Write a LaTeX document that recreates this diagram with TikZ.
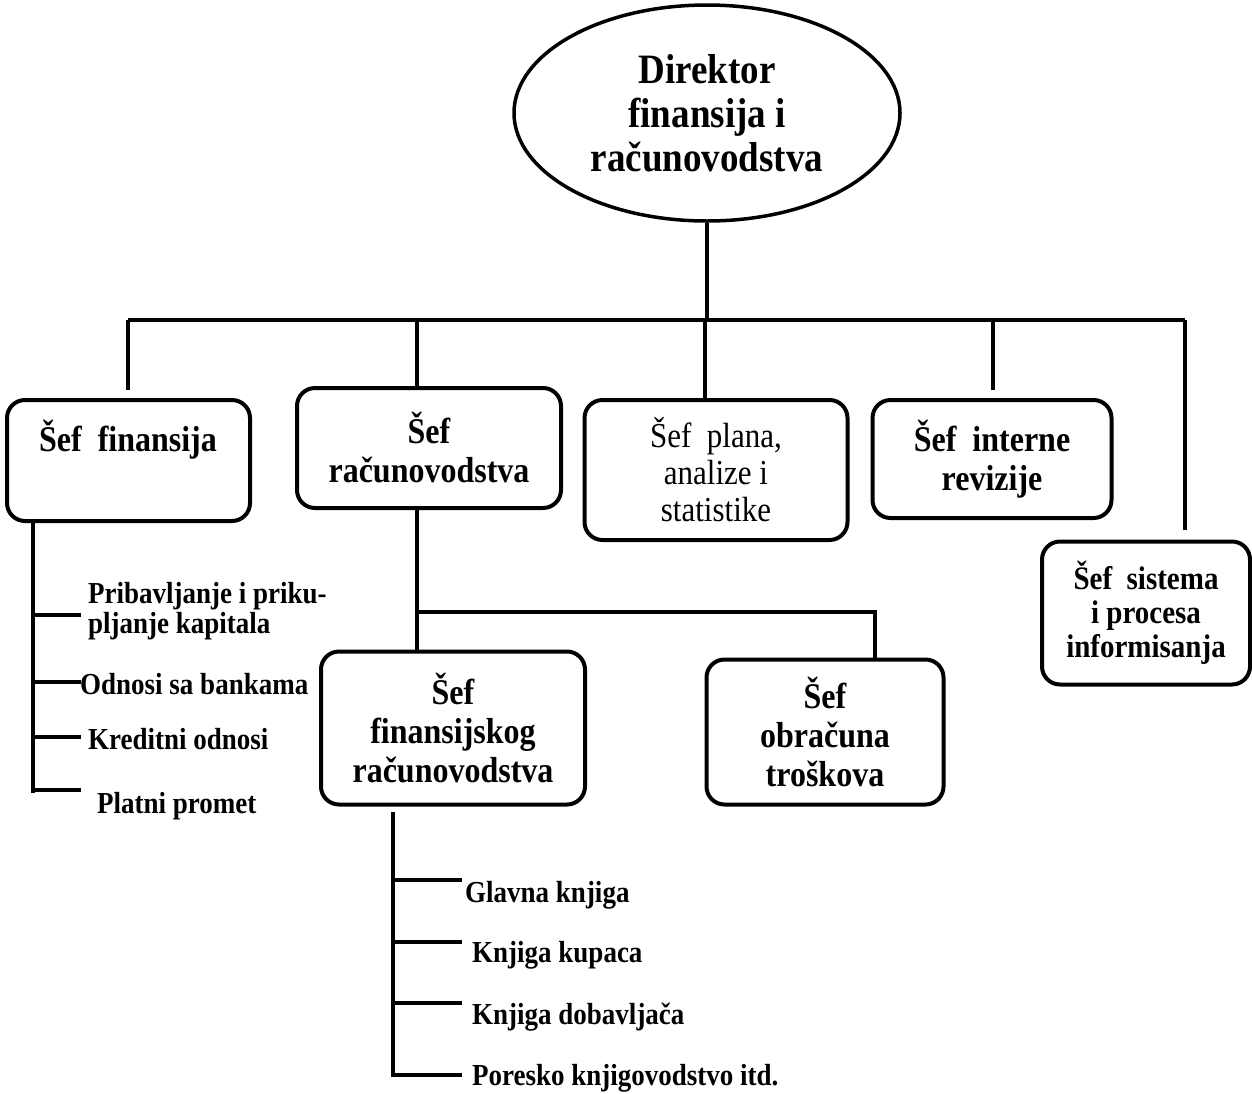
\documentclass[tikz,border=0pt]{standalone}
\usepackage{fontspec}
\setmainfont{Liberation Serif}
\usetikzlibrary{shapes.geometric}
\newcommand\tl[1]{\scalebox{1}[1.13]{#1}}
\begin{document}
\begin{tikzpicture}[x=1pt,y=-1pt,
  ln/.style={line width=4pt},
  box/.style={draw,line width=4pt,rounded corners=18pt,align=center,inner sep=0pt},
  bt/.style={font=\bfseries\fontsize{32}{39}\selectfont},
  rt/.style={font=\fontsize{31}{37}\selectfont},
  st/.style={font=\bfseries\fontsize{29}{34}\selectfont},
  lt/.style={font=\bfseries\fontsize{27}{30}\selectfont,align=left,inner sep=0pt,anchor=west},
]
\useasboundingbox (0,0) rectangle (1252,1093);
% director
\node[draw,ellipse,line width=3.5pt,minimum width=386pt,minimum height=216pt,align=center,
      font=\bfseries\fontsize{37}{44}\selectfont] (dir) at (707,113)
      {\tl{Direktor}\\\tl{finansija i}\\\tl{računovodstva}};
% boxes
\node[box,minimum width=243pt,minimum height=121pt] (fin) at (128.5,460.5) {};
\node[bt] (fint) at (128,440) {\tl{Šef\ \ finansija}};
\node[box,bt,minimum width=264pt,minimum height=120pt] (rac) at (429,448) {\tl{Šef}\\\tl{računovodstva}};
\node[box,rt,minimum width=263pt,minimum height=140pt] (plan) at (716,470) {\tl{Šef\ \ plana,}\\\tl{analize i}\\\tl{statistike}};
\node[box,bt,minimum width=239pt,minimum height=118pt] (rev) at (992,459) {\tl{Šef\ \ interne}\\\tl{revizije}};
\node[box,st,minimum width=208pt,minimum height=143pt] (sis) at (1146,613) {\tl{Šef\ \ sistema}\\\tl{i procesa}\\\tl{informisanja}};
\node[box,bt,minimum width=264pt,minimum height=153pt] (frac) at (453,728) {\tl{Šef}\\\tl{finansijskog}\\\tl{računovodstva}};
\node[box,bt,minimum width=237pt,minimum height=145pt] (tros) at (825,732) {\tl{Šef}\\\tl{obračuna}\\\tl{troškova}};
% main tree
\coordinate (hub) at (707,320);
\coordinate (hl) at (128,320);
\coordinate (hr) at (1185,320);
\draw[ln] (dir.south) -- (hub);
\draw[ln] (hl) -- (hr);
\draw[ln] (hl) -- ++(0,70);
\draw[ln] (417,320) -- (rac.north -| 417,0);
\draw[ln] (705,320) -- (plan.north -| 705,0);
\draw[ln] (993,320) -- ++(0,70);
\draw[ln] (hr) -- ++(0,210);
% accounting subtree
\coordinate (sub) at (417,612);
\coordinate (subr) at (875,612);
\draw[ln] (rac.south -| sub) -- (frac.north -| sub);
\draw[ln] (sub) -- (subr) -- (tros.north -| subr);
% finance list
\coordinate (fl) at (33,521);
\coordinate (flb) at (33,793);
\draw[ln] (fl) -- (flb);
\node[lt] (f1) at (88,611) {\tl{Pribavljanje i priku-}\\\tl{pljanje kapitala}};
\node[lt] (f2) at (80,684) {\tl{Odnosi sa bankama}};
\node[lt] (f3) at (88,739) {\tl{Kreditni odnosi}};
\node[lt] (f4) at (97,806) {\tl{Platni promet}};
\draw[ln] (33,615) -- (81,615);
\draw[ln] (33,682) -- (81,682);
\draw[ln] (33,737) -- (81,737);
\draw[ln] (31,790) -- (81,790);
% bookkeeping list
\coordinate (bl) at (393,812);
\coordinate (blb) at (393,1075);
\draw[ln] (bl) -- (blb);
\node[lt] (b1) at (465,895) {\tl{Glavna knjiga}};
\node[lt] (b2) at (472,955) {\tl{Knjiga kupaca}};
\node[lt] (b3) at (472,1017) {\tl{Knjiga dobavljača}};
\node[lt] (b4) at (472,1078) {\tl{Poresko knjigovodstvo itd.}};
\draw[ln] (393,880) -- (462,880);
\draw[ln] (393,942) -- (462,942);
\draw[ln] (393,1003) -- (462,1003);
\draw[ln] (391,1075) -- (462,1075);
\end{tikzpicture}
\end{document}
